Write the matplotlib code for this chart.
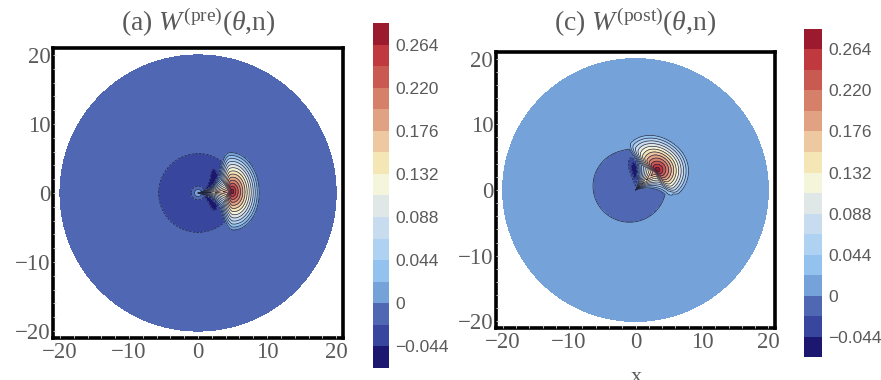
import numpy as np
import matplotlib
matplotlib.use('Agg')
import matplotlib.pyplot as plt
from matplotlib.colors import ListedColormap, BoundaryNorm

# colour bands of the legend (bottom -> top) and their boundaries
levels = [-0.066, -0.044, -0.022, 0.0, 0.022, 0.044, 0.066, 0.088, 0.110,
          0.132, 0.154, 0.176, 0.198, 0.220, 0.242, 0.264, 0.286]
band_colors = ['#1c1870', '#39469e', '#5068b4', '#76a2da', '#94c2ee', '#b0d2f2',
               '#c8dcf0', '#dfe8e6', '#f5f5dc', '#f5e6b5', '#eec8a0', '#e0a283',
               '#d6806a', '#c95a52', '#c0393f', '#9c1a2e']
cbar_ticks = [-0.044, 0.0, 0.044, 0.088, 0.132, 0.176, 0.220, 0.264]
cbar_labels = ['\u22120.044', '0', '0.044', '0.088', '0.132', '0.176', '0.220', '0.264']
axis_ticks = [-20, -10, 0, 10, 20]
axis_labels = ['\u221220', '\u221210', '0', '10', '20']

# panel (a) pre-selection, panel (c) post-selection
titles = [r'(a) $W^{\rm (pre)}$($\theta$,n)', r'(c) $W^{\rm (post)}$($\theta$,n)']
background = [-0.010, 0.010]
peak_height = [0.31, 0.29]
peak_radius = [4.9, 4.5]
peak_angle = [0.05, 0.75]
reach_out = [4.1, 4.8]
reach_in = [2.0, 1.8]
reach_up = [5.8, 6.0]
reach_down = [5.8, 5.0]
fan_width0 = [0.30, 0.45]
fan_width1 = [0.10, 0.10]
fan_level0 = [0.45, 0.40]
fan_level1 = [0.30, 0.35]
hole_depth = [0.022, 0.022]
hole_radius = [6.07, 5.66]
hole_center = [(0.0, 0.0), (-0.9, 0.6)]
streak_angles = [[0.62, -0.55], [1.62]]
streak_twist = [[0.20, -0.15], [0.0]]
streak_radius = [[2.5, 2.2], [3.0]]
streak_len = [[1.0, 0.8], [1.3]]
streak_width = [0.13, 0.14]
streak_depth = [0.05, 0.05]
core_height = [0.05, 0.0]
disk_radius = 20.0

ax_rects = [[0.0602, 0.1105, 0.3292, 0.7632], [0.563, 0.1368, 0.3167, 0.7263]]
cb_rects = [[0.4234, 0.0316, 0.0182, 0.9079], [0.9126, 0.0605, 0.0204, 0.8632]]
title_y = [1.062, 1.08]

plt.rcParams['mathtext.fontset'] = 'custom'
plt.rcParams['mathtext.rm'] = 'Liberation Serif'
plt.rcParams['mathtext.it'] = 'Liberation Serif:italic'

gray = '#5a5a5a'
cmap = ListedColormap(band_colors)

r = np.linspace(0.0, disk_radius, 600)
phi = np.linspace(-np.pi, np.pi, 1801)
R, PHI = np.meshgrid(r, phi)
X = R * np.cos(PHI)
Y = R * np.sin(PHI)


def wrap(a):
    return np.angle(np.exp(1j * a))


def wigner(i):
    a0, r0, amp = peak_angle[i], peak_radius[i], peak_height[i]
    ex, ey = np.cos(a0), np.sin(a0)
    xi = (X - r0 * ex) * ex + (Y - r0 * ey) * ey
    eta = -(X - r0 * ex) * ey + (Y - r0 * ey) * ex
    axi = np.where(xi > 0, reach_out[i], reach_in[i])
    aeta = np.where(eta > 0, reach_up[i], reach_down[i])
    lobe = amp * np.clip(1.0 - np.hypot(xi / axi, eta / aeta), 0.0, None)
    # narrow fan joining the peak to the origin
    d = np.abs(wrap(PHI - a0))
    s = fan_width0[i] + fan_width1[i] * R
    v = amp * (fan_level0[i] + fan_level1[i] * R / r0)
    fan = v * np.clip(1.0 - d / s, 0.0, None) * np.clip(r0 + 1.5 - R, 0.0, 1.0)
    z = np.maximum(lobe, fan)
    cx, cy = hole_center[i]
    rh = np.hypot(X - cx, Y - cy)
    z -= hole_depth[i] * np.exp(-(rh / hole_radius[i])**8)
    for a, tw, rc, ln in zip(streak_angles[i], streak_twist[i],
                             streak_radius[i], streak_len[i]):
        ds = wrap(PHI - (a + tw * (R - rc)))
        z -= streak_depth[i] * np.exp(-(R - rc)**2 / (2 * ln**2)) \
            * np.exp(-ds**2 / (2 * streak_width[i]**2))
    z += core_height[i] * np.exp(-R**2 / (2 * 0.55**2))
    return z + background[i]


fig = plt.figure(figsize=(8.81, 3.80), dpi=100)

for i in range(2):
    norm = BoundaryNorm(levels, cmap.N)
    ax = fig.add_axes(ax_rects[i])
    Z = np.clip(wigner(i), levels[0] + 1e-4, levels[-1] - 1e-4)
    ax.contourf(X, Y, Z, levels=levels, cmap=cmap, norm=norm)
    ax.contour(X, Y, Z, levels=levels, colors='#20243f', linewidths=0.5)
    ax.set_xlim(-21, 21)
    ax.set_ylim(-21, 21)
    ax.set_aspect('auto')
    ax.set_xticks(axis_ticks)
    ax.set_yticks(axis_ticks)
    ax.set_xticks(np.arange(-20, 21, 2), minor=True)
    ax.set_yticks(np.arange(-20, 21, 2), minor=True)
    ax.set_xticklabels(axis_labels, family='Liberation Serif', size=16.5, color=gray)
    ax.set_yticklabels(axis_labels, family='Liberation Serif', size=16.5, color=gray)
    ax.tick_params(which='both', direction='in', color='#d8d8d8', length=2.2,
                   width=0.6)
    ax.tick_params(axis='x', pad=3)
    ax.tick_params(axis='y', pad=2)
    for sp in ax.spines.values():
        sp.set_linewidth(2.6)
        sp.set_color('black')
        sp.set_zorder(1)
    ax.text(0.5, title_y[i], titles[i], transform=ax.transAxes, ha='center',
            va='baseline', family='Liberation Serif', size=20, color=gray)

    cax = fig.add_axes(cb_rects[i])
    cb = fig.colorbar(plt.cm.ScalarMappable(norm=norm, cmap=cmap), cax=cax,
                      boundaries=levels)
    cb.set_ticks(cbar_ticks, labels=cbar_labels)
    cb.minorticks_off()
    cb.outline.set_visible(False)
    cb.ax.tick_params(length=0, pad=4.5, labelsize=12.5, labelcolor=gray)
    for lab in cb.ax.get_yticklabels():
        lab.set_family('Liberation Sans')

fig.text(636 / 881, 1 - 368 / 380, 'x', ha='center', va='top',
         family='Liberation Serif', size=16, color=gray)

fig.savefig('out.png', dpi=100)
